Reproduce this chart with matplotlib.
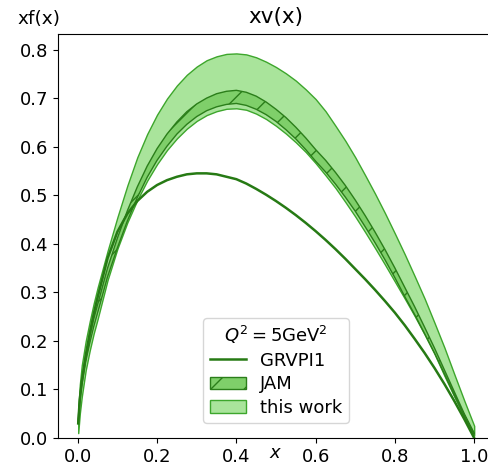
import numpy as np
import matplotlib
matplotlib.use("Agg")
import matplotlib.pyplot as plt

# x grid the curves were read on
x_vals = [0.001, 0.005, 0.01, 0.02, 0.03, 0.04, 0.05, 0.075, 0.1, 0.125, 0.15, 0.175, 0.2,
          0.225, 0.25, 0.275, 0.3, 0.325, 0.35, 0.375, 0.4, 0.425, 0.45, 0.475, 0.5,
          0.525, 0.55, 0.575, 0.6, 0.625, 0.65, 0.675, 0.7, 0.725, 0.75, 0.775, 0.8,
          0.825, 0.85, 0.875, 0.9, 0.925, 0.95, 0.975, 1.0]

# GRVPI1 valence curve
grvpi1 = [0.03, 0.08, 0.115, 0.17, 0.215, 0.255, 0.29, 0.37, 0.425, 0.462, 0.488, 0.507, 0.521,
          0.531, 0.538, 0.543, 0.545, 0.545, 0.543, 0.538, 0.533, 0.524, 0.513, 0.501, 0.488,
          0.474, 0.459, 0.443, 0.426, 0.408, 0.389, 0.369, 0.348, 0.327, 0.305, 0.282, 0.258,
          0.232, 0.204, 0.175, 0.144, 0.111, 0.076, 0.039, 0.0]

# JAM band (lower / upper)
jam_low = [0.03, 0.075, 0.108, 0.157, 0.195, 0.229, 0.258, 0.332, 0.392, 0.447, 0.495, 0.537, 0.572,
           0.601, 0.626, 0.646, 0.662, 0.674, 0.682, 0.687, 0.689, 0.685, 0.677, 0.666, 0.652,
           0.635, 0.616, 0.594, 0.57, 0.548, 0.523, 0.496, 0.467, 0.435, 0.402, 0.367, 0.33,
           0.291, 0.254, 0.215, 0.175, 0.132, 0.088, 0.046, 0.008]
jam_high = [0.04, 0.085, 0.12, 0.17, 0.21, 0.245, 0.275, 0.35, 0.412, 0.468, 0.517, 0.56, 0.596,
            0.626, 0.651, 0.672, 0.688, 0.70, 0.709, 0.714, 0.716, 0.712, 0.704, 0.692, 0.677,
            0.66, 0.64, 0.618, 0.594, 0.572, 0.547, 0.52, 0.49, 0.458, 0.424, 0.388, 0.35,
            0.31, 0.27, 0.228, 0.185, 0.14, 0.095, 0.05, 0.01]

# this work band (lower / upper)
work_low = [0.01, 0.05, 0.085, 0.14, 0.18, 0.215, 0.245, 0.325, 0.39, 0.444, 0.49, 0.53, 0.564,
            0.593, 0.617, 0.637, 0.653, 0.665, 0.673, 0.678, 0.679, 0.676, 0.668, 0.657, 0.643,
            0.627, 0.609, 0.589, 0.566, 0.541, 0.515, 0.486, 0.456, 0.424, 0.391, 0.357, 0.322,
            0.287, 0.251, 0.213, 0.173, 0.128, 0.085, 0.043, 0.005]
work_high = [0.055, 0.11, 0.15, 0.20, 0.24, 0.277, 0.31, 0.385, 0.455, 0.52, 0.578, 0.626, 0.666,
             0.699, 0.726, 0.748, 0.765, 0.778, 0.786, 0.791, 0.792, 0.790, 0.784, 0.775, 0.764,
             0.751, 0.736, 0.718, 0.698, 0.673, 0.643, 0.612, 0.578, 0.541, 0.503, 0.463, 0.421,
             0.378, 0.333, 0.287, 0.237, 0.186, 0.131, 0.077, 0.025]

fig = plt.figure(figsize=(4.89, 4.69), dpi=100)
# axes runs a little past the right edge, like the original crop
ax = fig.add_axes([58 / 489, 31 / 469, 436 / 489, 404 / 469])

x = np.array(x_vals)

ax.fill_between(x, work_low, work_high, facecolor='#a9e49b', edgecolor='#3da62c',
                linewidth=1.0, label='this work', zorder=2)
ax.fill_between(x, jam_low, jam_high, facecolor='#7fcf6a', edgecolor='#2b7e1a',
                hatch='/', linewidth=1.0, label='JAM', zorder=3)
ax.plot(x, grvpi1, color='#267a14', linewidth=1.8, label='GRVPI1', zorder=4)

ax.set_xlim(-0.05, 1.05)
ax.set_ylim(0.0, 0.832)
ax.set_xticks(np.arange(0.0, 1.01, 0.2))
ax.set_yticks(np.arange(0.0, 0.81, 0.1))
ax.tick_params(labelsize=13)

ax.set_title('xv(x)', fontsize=15.5, pad=8)
fig.text(17 / 489, 1 - 19 / 469, 'xf(x)', fontsize=13.3, ha='left', va='center')
ax.text(0.5, -0.036, '$x$', transform=ax.transAxes, ha='center', va='center', fontsize=13)

# legend order: line first, then the two bands
handles, labels = ax.get_legend_handles_labels()
order = [2, 1, 0]
ax.legend([handles[i] for i in order], [labels[i] for i in order],
          title=r'$Q^2=5\mathrm{GeV}^2$', loc='lower center',
          bbox_to_anchor=(0.5, 0.015), fontsize=13, title_fontsize=13,
          borderpad=0.35, labelspacing=0.3)

fig.savefig('out.png', dpi=100)
